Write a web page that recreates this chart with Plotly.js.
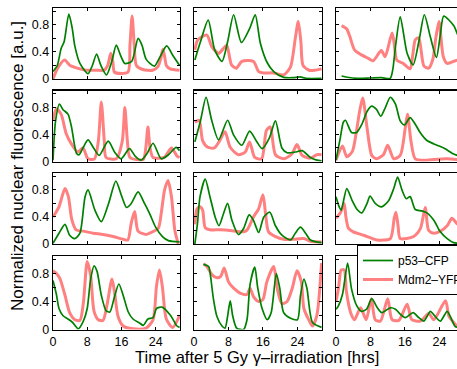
<!DOCTYPE html>
<html><head><meta charset="utf-8">
<script src="https://cdn.plot.ly/plotly-3.0.1.min.js"></script>
<style>html,body{margin:0;padding:0;overflow:hidden;background:#fff}#c{width:480px;height:369px}</style>
</head><body><div id="c"></div>
<script>
// ---- data (time in hrs, normalized fluorescence) ----
const xTickVals = [0, 8, 16, 24];
const xTickText = ['0', '8', '16', '24'];
const yTickVals = [0, 0.2, 0.4, 0.6, 0.8, 1.0];
const yTickText = ['0', '', '0.4', '', '0.8', ''];
const seriesNames = ['p53\u2013CFP', 'Mdm2\u2013YFP'];

const p53T_1 = [0, 1, 1.9, 2.6, 3.7, 4.5, 5.1, 6.3, 8.2, 9.2, 10.2, 11.2, 12.5, 13.7, 14.8, 15.8, 16.8, 18.4, 19.9, 20.8, 21.8, 23.7, 24.8, 26.6, 28, 29.6];
const p53V_1 = [0.11, 0.2, 0.45, 0.55, 0.96, 0.75, 0.49, 0.23, 0.08, 0.2, 0.37, 0.2, 0.06, 0.25, 0.5, 0.35, 0.23, 0.26, 0.6, 0.5, 0.29, 0.19, 0.3, 0.49, 0.35, 0.2];
const mdmT_1 = [0, 1, 2.7, 4, 6.3, 7.8, 10, 12, 12.8, 13.5, 14, 14.4, 17.5, 18.0, 18.5, 19, 19.5, 21, 23.3, 24.5, 25.2, 25.7, 26.2, 26.5, 27.4, 29.6];
const mdmV_1 = [0, 0.15, 0.28, 0.2, 0.15, 0.13, 0.13, 0.13, 0.2, 0.38, 0.25, 0.1, 0.1, 0.5, 0.93, 0.5, 0.2, 0.14, 0.13, 0.18, 0.3, 0.44, 0.3, 0.2, 0.15, 0.13];

const p53T_2 = [0.2, 1.5, 3.3, 4.8, 6.5, 7.8, 9.2, 11, 13, 14.2, 15.4, 17, 18.5, 20.8, 23, 24.6, 26, 29.6];
const p53V_2 = [0.28, 0.55, 0.87, 0.43, 0.26, 0.55, 0.95, 0.54, 0.76, 0.95, 0.53, 0.24, 0.11, 0.025, 0.02, 0.03, 0.01, 0.01];
const mdmT_2 = [0.2, 0.9, 3.0, 4.1, 5.7, 6.8, 7.6, 8.7, 9.8, 11.1, 13.8, 15, 16.2, 18.5, 20.8, 22.4, 23.5, 24.2, 24.8, 25.3, 26.7, 28, 29.6];
const mdmV_2 = [0.43, 0.58, 0.65, 0.48, 0.38, 0.45, 0.5, 0.21, 0.16, 0.26, 0.26, 0.11, 0.09, 0.09, 0.06, 0.18, 0.6, 0.85, 0.55, 0.2, 0.13, 0.13, 0.15];

const p53T_3 = [1.3, 2.6, 5, 8, 10.5, 12.6, 13.2, 13.8, 14.9, 16.5, 17.9, 19.3, 20.5, 21.9, 23.3, 24.2, 25.0, 27.3, 28.2, 29.6];
const p53V_3 = [0.045, 0.026, 0.01, 0.015, 0.02, 0.01, 0.15, 0.48, 0.92, 0.38, 0.21, 0.58, 0.95, 0.62, 0.32, 0.65, 0.93, 0.79, 0.66, 0.45];
const mdmT_3 = [1.3, 2.5, 3.2, 4.3, 5.8, 7.4, 8.6, 10.5, 11.4, 13.0, 13.5, 14.1, 15.6, 17.2, 17.8, 18.4, 19.2, 20.4, 21.5, 22.5, 23.1, 23.9, 24.9, 25.8, 28.2, 29.6];
const mdmV_3 = [0.79, 0.74, 0.63, 0.43, 0.36, 0.31, 0.27, 0.42, 0.33, 0.68, 0.53, 0.28, 0.23, 0.15, 0.35, 0.58, 0.61, 0.19, 0.16, 0.3, 0.58, 0.85, 0.33, 0.23, 0.28, 0.25];

const p53T_4 = [0, 0.6, 1.5, 2.3, 3.5, 4.3, 5.5, 6.1, 7, 8.2, 9.5, 10.8, 12.9, 14.5, 15.9, 17.9, 19.2, 20.6, 22, 23.4, 25.3, 27, 28.8, 29.6];
const p53V_4 = [0.02, 0.6, 0.85, 0.77, 0.7, 0.52, 0.12, 0.1, 0.2, 0.32, 0.2, 0.09, 0.3, 0.13, 0.04, 0.19, 0.08, 0.02, 0.12, 0.27, 0.04, 0.1, 0.21, 0.16];
const mdmT_4 = [0, 0.8, 1.9, 3.1, 4.3, 5.8, 7, 8.2, 9.7, 10.6, 11.3, 12.0, 12.4, 14.8, 16.2, 16.8, 17.4, 18, 21.1, 21.7, 22.2, 22.7, 23.4, 26, 27.7, 29, 29.6];
const mdmV_4 = [0.61, 0.78, 0.7, 0.41, 0.26, 0.14, 0.2, 0.04, 0.04, 0.3, 0.88, 0.3, 0.06, 0.04, 0.3, 0.8, 0.3, 0.06, 0.03, 0.2, 0.51, 0.2, 0.06, 0.06, 0.2, 0.08, 0.06];

const p53T_5 = [0.2, 1.5, 2.8, 4.1, 5.7, 7.8, 9.2, 11.1, 12.9, 14.5, 15.8, 17.5, 18.9, 20.4, 21.6, 23.5, 25.1, 27, 28.5, 29.6];
const p53V_5 = [0.29, 0.6, 0.95, 0.61, 0.32, 0.61, 0.39, 0.24, 0.45, 0.3, 0.19, 0.35, 0.6, 0.2, 0.13, 0.14, 0.16, 0.06, 0.02, 0.01];
const mdmT_5 = [0.2, 1.2, 2.0, 3.2, 4.7, 5.9, 7.2, 8.4, 10.3, 11.9, 12.9, 14.1, 15.7, 16.8, 17.7, 18.9, 20.8, 22.7, 23.9, 25.1, 27, 28.5, 29.6];
const mdmV_5 = [0.58, 0.61, 0.31, 0.21, 0.2, 0.3, 0.44, 0.21, 0.1, 0.14, 0.29, 0.06, 0.04, 0.46, 0.51, 0.1, 0.04, 0.11, 0.25, 0.09, 0.05, 0.1, 0.1];

const p53T_6 = [0, 1.0, 1.7, 2.2, 3.6, 4.8, 6.0, 7.2, 8.3, 9.4, 10.4, 11.4, 12.6, 13.8, 14.9, 15.9, 17.2, 18.4, 19.6, 21.1, 22.7, 25.0, 27.3, 28.2, 29.6];
const p53V_6 = [0.02, 0.35, 0.58, 0.61, 0.43, 0.43, 0.55, 0.74, 0.82, 0.77, 0.67, 0.79, 0.95, 0.85, 0.6, 0.54, 0.65, 0.55, 0.42, 0.31, 0.26, 0.2, 0.11, 0.09, 0.06];
const mdmT_6 = [0, 1.5, 2.5, 3.8, 4.8, 5.5, 6.2, 7.2, 8.3, 9.4, 11, 12.0, 13.4, 14.9, 16.1, 16.6, 17.4, 18.4, 21.1, 22.7, 25.8, 29.6];
const mdmV_6 = [0.02, 0.23, 0.07, 0.15, 0.47, 0.75, 0.94, 0.5, 0.09, 0.04, 0.1, 0.24, 0.04, 0.09, 0.51, 0.7, 0.3, 0.04, 0.02, 0.03, 0.04, 0.02];

const p53T_7 = [0, 1.4, 2.8, 3.9, 5.1, 6.3, 7.5, 8.2, 9.8, 11.3, 13, 14.7, 16.1, 17.2, 18.3, 19.9, 21.4, 22.6, 24, 25.6, 27, 29.6];
const p53V_7 = [0.01, 0.16, 0.29, 0.13, 0.08, 0.16, 0.7, 0.8, 0.5, 0.33, 0.6, 0.93, 0.7, 0.54, 0.6, 0.77, 0.6, 0.45, 0.25, 0.11, 0.05, 0.03];
const mdmT_7 = [0, 1.4, 2.8, 3.6, 4.4, 5.4, 7.1, 9.4, 11.7, 14.1, 16.4, 17.5, 18.3, 19.1, 19.9, 21.8, 22.6, 24.6, 25.3, 26.1, 26.9, 27.7, 28.5, 29.3];
const mdmV_7 = [0.4, 0.55, 0.82, 0.7, 0.36, 0.21, 0.19, 0.16, 0.14, 0.11, 0.07, 0.06, 0.31, 0.48, 0.19, 0.14, 0.16, 0.23, 0.45, 0.8, 0.94, 0.7, 0.2, 0.0];

const p53T_8 = [0.2, 0.8, 1.4, 2.6, 3.7, 4.9, 5.8, 6.8, 7.8, 8.8, 10.3, 11.5, 12.8, 13.8, 15, 16.2, 17.6, 18.9, 20.4, 22.4, 23.5, 24.7, 25.9, 27, 29.6];
const p53V_8 = [0.0, 0.3, 0.7, 0.96, 0.7, 0.4, 0.27, 0.44, 0.6, 0.35, 0.14, 0.23, 0.43, 0.35, 0.17, 0.4, 0.47, 0.27, 0.13, 0.06, 0.16, 0.25, 0.16, 0.06, 0.02];
const mdmT_8 = [0.2, 0.7, 1.4, 2.0, 2.6, 3.7, 6.1, 8.4, 10.7, 12.2, 13.8, 15, 16, 16.6, 17.3, 18.9, 20.8, 23.1, 25.5, 27, 29.6];
const mdmV_8 = [0.29, 0.52, 0.55, 0.5, 0.24, 0.21, 0.21, 0.2, 0.18, 0.2, 0.4, 0.52, 0.73, 0.45, 0.18, 0.11, 0.07, 0.07, 0.08, 0.04, 0.03];

const p53T_9 = [0, 0.8, 1.2, 2.5, 3.7, 4.9, 6.0, 7.2, 7.9, 9.1, 10.6, 12.2, 13.4, 14.3, 15.3, 16.3, 17.2, 18.4, 19.9, 21.1, 22.7, 24.2, 25.8, 27.3, 29.6];
const p53V_9 = [0.7, 0.54, 0.5, 0.82, 0.65, 0.51, 0.46, 0.6, 0.71, 0.6, 0.55, 0.64, 0.82, 0.99, 0.8, 0.67, 0.7, 0.51, 0.49, 0.46, 0.35, 0.18, 0.08, 0.02, 0.01];
const mdmT_9 = [0, 1.1, 1.9, 2.3, 2.9, 4.0, 6.4, 9.5, 12.6, 13.5, 13.9, 14.4, 14.9, 18, 19.6, 20.7, 21.5, 22.7, 24.2, 25.8, 26.9, 28.1, 29.6];
const mdmV_9 = [0.38, 0.47, 0.6, 0.4, 0.23, 0.18, 0.13, 0.06, 0.08, 0.38, 0.47, 0.27, 0.08, 0.11, 0.23, 0.54, 0.2, 0.16, 0.19, 0.27, 0.38, 0.3, 0.25];

const p53T_10 = [0, 0.8, 1.4, 2.3, 3.5, 4.6, 5.9, 7.1, 8.0, 8.8, 9.6, 10.3, 11.3, 12.4, 13.3, 14.3, 15.4, 16.4, 17.6, 18.7, 20.3, 21.1, 22.2, 23.4, 24.2, 25.5, 27.5, 29, 29.6];
const p53V_10 = [0.7, 0.5, 0.3, 0.2, 0.15, 0.1, 0.01, 0.12, 0.3, 0.72, 0.91, 0.83, 0.49, 0.27, 0.25, 0.45, 0.65, 0.49, 0.25, 0.15, 0.09, 0.06, 0.15, 0.17, 0.3, 0.32, 0.2, 0.05, 0.03];
const mdmT_10 = [0, 0.8, 1.6, 2.8, 3.9, 5.1, 6.3, 7.1, 8.0, 8.8, 9.6, 10.6, 11.7, 12.6, 13.8, 14.4, 15.2, 16.4, 18.7, 21.8, 23.4, 24.2, 24.9, 25.6, 26.5, 28, 29.6];
const mdmV_10 = [0.84, 0.8, 0.73, 0.49, 0.24, 0.14, 0.13, 0.38, 0.97, 0.77, 0.26, 0.14, 0.13, 0.34, 0.72, 0.53, 0.19, 0.05, 0.01, 0.02, 0.14, 0.62, 0.85, 0.6, 0.15, 0.03, 0.2];

const p53T_11 = [2.2, 3.4, 3.8, 4.5, 5.3, 6.5, 7.2, 7.8, 8.4, 9.0, 9.9, 11.5, 12.3, 13, 14.1, 14.8, 15.8, 17, 17.9, 19.1, 19.9, 20.8, 22.4, 24, 24.7, 25.5, 26.2, 27.5, 29.6];
const p53V_11 = [0.93, 0.9, 0.78, 0.44, 0.19, 0.05, 0.02, 0.19, 0.41, 0.19, 0.02, 0.0, 0.14, 0.64, 0.89, 0.59, 0.3, 0.14, 0.24, 0.8, 0.59, 0.24, 0.16, 0.14, 0.48, 0.72, 0.59, 0.1, 0.03];
const mdmT_11 = [2.2, 3.0, 4.2, 5.3, 6.2, 7.0, 8.0, 9.2, 10.7, 12.3, 13, 13.8, 15, 16, 16.9, 18.5, 19.3, 20.4, 21.6, 22.8, 23.9, 24.9, 25.5, 26.7, 27.5, 28.5, 29.6];
const mdmV_11 = [0.94, 0.9, 0.78, 0.74, 0.76, 0.88, 0.68, 0.59, 0.52, 0.5, 0.59, 0.47, 0.4, 0.43, 0.68, 0.9, 0.59, 0.37, 0.4, 0.59, 0.84, 0.68, 0.3, 0.13, 0.05, 0.2, 0.95];

const p53T_12 = [0, 0.5, 1.5, 2.7, 3.6, 4.8, 5.9, 7.1, 8.3, 9.6, 10.6, 12.6, 13.8, 14.9, 16.1, 17.9, 19.2, 20.4, 21.9, 22.7, 24.2, 25.8, 27, 27.7, 29.6];
const p53V_12 = [0.29, 0.33, 0.5, 0.95, 0.58, 0.34, 0.26, 0.29, 0.44, 0.31, 0.24, 0.31, 0.29, 0.22, 0.17, 0.24, 0.17, 0.12, 0.26, 0.21, 0.12, 0.26, 0.12, 0.04, 0.03];
const mdmT_12 = [0, 0.6, 1.2, 1.9, 2.4, 3.4, 4.3, 5.7, 7.0, 8.2, 9.1, 10.3, 12.0, 13.0, 14.6, 16.5, 17.6, 19.6, 21.5, 22.7, 25.4, 26.2, 27.3, 28.1, 29.6];
const mdmV_12 = [0.4, 0.6, 0.85, 0.85, 0.55, 0.24, 0.14, 0.31, 0.14, 0.44, 0.14, 0.12, 0.44, 0.14, 0.13, 0.36, 0.14, 0.12, 0.23, 0.14, 0.41, 0.19, 0.1, 0.05, 0.05];

const panels = [
  [p53T_1, p53V_1, mdmT_1, mdmV_1], [p53T_2, p53V_2, mdmT_2, mdmV_2], [p53T_3, p53V_3, mdmT_3, mdmV_3],
  [p53T_4, p53V_4, mdmT_4, mdmV_4], [p53T_5, p53V_5, mdmT_5, mdmV_5], [p53T_6, p53V_6, mdmT_6, mdmV_6],
  [p53T_7, p53V_7, mdmT_7, mdmV_7], [p53T_8, p53V_8, mdmT_8, mdmV_8], [p53T_9, p53V_9, mdmT_9, mdmV_9],
  [p53T_10, p53V_10, mdmT_10, mdmV_10], [p53T_11, p53V_11, mdmT_11, mdmV_11], [p53T_12, p53V_12, mdmT_12, mdmV_12]
];

// ---- layout geometry (pixels) ----
const W = 480, H = 369;
const colPx = [[53, 180], [194, 322], [336, 464]];
const rowPx = [[8, 79], [90.5, 161.5], [173, 244], [256, 329.5]];
const FONT = 'Liberation Sans, Arial, Helvetica, sans-serif';
const GREEN = 'rgb(0,128,0)', PINK = 'rgb(255,128,128)';

const traces = [];
const layout = {
  width: W, height: H,
  margin: {l: 0, r: 0, t: 0, b: 0, autoexpand: false},
  paper_bgcolor: '#fff', plot_bgcolor: '#fff',
  font: {family: FONT, size: 12, color: '#000'},
  showlegend: true,
  legend: {x: 357 / W, y: (H - 245) / H, xanchor: 'left', yanchor: 'top',
           bgcolor: '#fff', bordercolor: '#000', borderwidth: 1,
           font: {family: FONT, size: 12, color: '#000'}, tracegroupgap: 0},
  annotations: [
    {text: 'Time after 5 Gy \u03b3\u2013irradiation [hrs]', xref: 'paper', yref: 'paper',
     x: 257 / W, y: (H - 356.5) / H, xanchor: 'center', yanchor: 'middle', showarrow: false,
     font: {family: FONT, size: 16.5, color: '#000'}},
    {text: 'Normalized nuclear fluorescence [a.u.]', xref: 'paper', yref: 'paper',
     x: 17 / W, y: (H - 166) / H, xanchor: 'center', yanchor: 'middle', textangle: -90, showarrow: false,
     font: {family: FONT, size: 17, color: '#000'}}
  ]
};

panels.forEach((p, i) => {
  const r = Math.floor(i / 3), c = i % 3;
  const n = i + 1;
  const xa = 'x' + (n === 1 ? '' : n), ya = 'y' + (n === 1 ? '' : n);
  traces.push({x: p[2], y: p[3], xaxis: xa, yaxis: ya, type: 'scatter', mode: 'lines',
    name: seriesNames[1], legendgroup: 'm', showlegend: i === 0, legendrank: 2,
    line: {color: PINK, width: 3, shape: 'spline', smoothing: 0.7}, hoverinfo: 'skip'});
  traces.push({x: p[0], y: p[1], xaxis: xa, yaxis: ya, type: 'scatter', mode: 'lines',
    name: seriesNames[0], legendgroup: 'p', showlegend: i === 0, legendrank: 1,
    line: {color: GREEN, width: 1.7, shape: 'spline', smoothing: 0.7}, hoverinfo: 'skip'});
  const axCommon = {showline: true, linecolor: '#000', linewidth: 1.3, mirror: 'ticks', ticks: 'inside',
    ticklen: 3, tickwidth: 1, tickcolor: '#000', showgrid: false, zeroline: false, fixedrange: true,
    tickfont: {family: FONT, size: 12.5, color: '#000'}};
  layout['xaxis' + (n === 1 ? '' : n)] = Object.assign({}, axCommon, {
    domain: [colPx[c][0] / W, colPx[c][1] / W], range: [0, 29.7], anchor: ya,
    tickmode: 'array', tickvals: xTickVals, ticktext: xTickText, showticklabels: r === 3});
  layout['yaxis' + (n === 1 ? '' : n)] = Object.assign({}, axCommon, {
    domain: [(H - rowPx[r][1]) / H, (H - rowPx[r][0]) / H], range: [0, 1.05], anchor: xa,
    tickmode: 'array', tickvals: yTickVals, ticktext: yTickText, showticklabels: c === 0});
});

Plotly.newPlot('c', traces, layout, {staticPlot: true, displayModeBar: false});
</script></body></html>
